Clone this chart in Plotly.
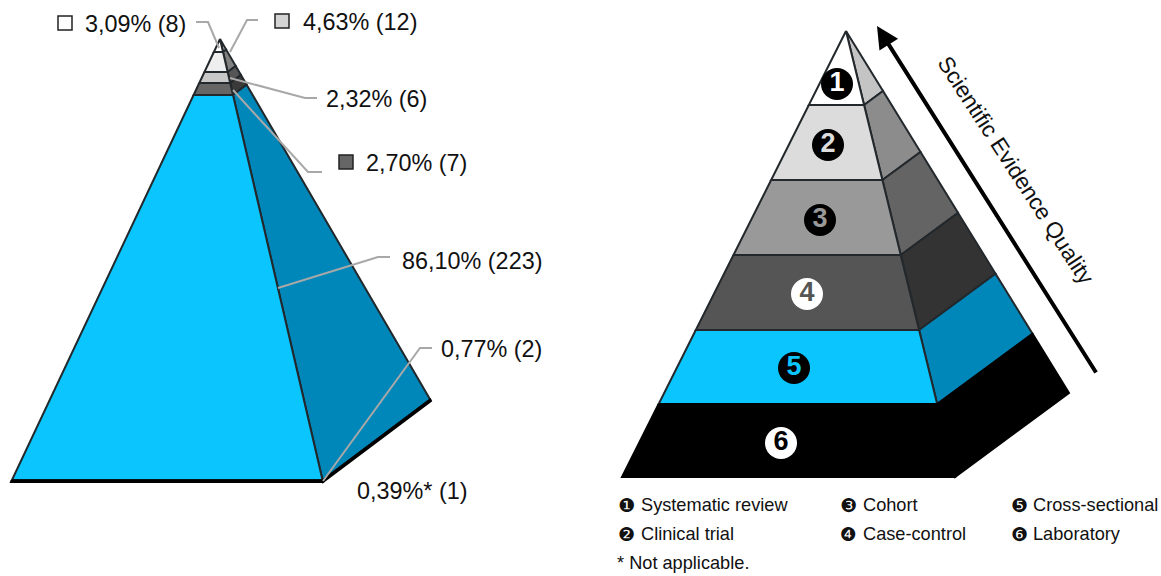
import plotly.graph_objects as go

# ---------- data ----------
categories = ["Systematic review", "Clinical trial", "Cohort", "Case-control", "Cross-sectional", "Laboratory"]
legend_glyphs = ["❶", "❷", "❸", "❹", "❺", "❻"]
circle_digits = ["1", "2", "3", "4", "5", "6"]
share_labels = ["3,09% (8)", "4,63% (12)", "2,32% (6)", "2,70% (7)", "86,10% (223)", "0,77% (2)", "0,39%* (1)"]
footnote = "* Not applicable."
axis_title = "Scientific Evidence Quality"

# height of each tier, as a share of the pyramid's height
left_tiers = [0.0293, 0.0451, 0.0248, 0.0271, 0.8697, 0.0040]
right_tiers = [0.1659, 0.1682, 0.1682, 0.1682, 0.1659, 0.1636]

# ---------- styling and layout ----------
FRONT = ["#ffffff", "#dcdcdc", "#999999", "#555555", "#0bc5fe", "#000000"]
SIDE = ["#c4c4c4", "#8c8c8c", "#646464", "#333333", "#0087ba", "#000000"]
LEFT_FRONT = ["#ffffff", "#eeeeee", "#c8c8c8", "#666666", "#0bc5fe", "#000000"]
LEFT_SIDE = ["#b4b4b4", "#808080", "#555555", "#3a3a3a", "#0087ba", "#000000"]
EDGE = "#22282c"
LEADER = "#a8a8a8"
FONT = "Liberation Sans"

L_GEOM = dict(apex=(220, 39), fl=(11, 482), fr=(323, 482), br=(431, 401))
R_GEOM = dict(apex=(846, 31), fl=(622, 477), fr=(955, 477), br=(1069, 393))

fig = go.Figure()


def lerp(a, b, t):
    return (a[0] + (b[0] - a[0]) * t, a[1] + (b[1] - a[1]) * t)


def poly(pts, fill, edge=EDGE, width=2):
    xs = [p[0] for p in pts] + [pts[0][0]]
    ys = [p[1] for p in pts] + [pts[0][1]]
    fig.add_trace(go.Scatter(x=xs, y=ys, mode="lines", fill="toself", fillcolor=fill,
                             line=dict(color=edge, width=width), hoverinfo="skip", showlegend=False))


def pyramid(tiers, g, front, side, width):
    total = sum(tiers)
    t0 = 0.0
    for h, cf, cs in zip(tiers, front, side):
        t1 = t0 + h / total
        a, b, c = g["fl"], g["fr"], g["br"]
        ap = g["apex"]
        edge = "#000000" if cf == "#000000" else EDGE
        poly([lerp(ap, b, t0), lerp(ap, c, t0), lerp(ap, c, t1), lerp(ap, b, t1)], cs, edge=edge, width=width)
        poly([lerp(ap, a, t0), lerp(ap, b, t0), lerp(ap, b, t1), lerp(ap, a, t1)], cf, edge=edge, width=width)
        t0 = t1


pyramid(left_tiers, L_GEOM, LEFT_FRONT, LEFT_SIDE, 2)
pyramid(right_tiers, R_GEOM, FRONT, SIDE, 2)

# leader lines of the left pyramid
leaders = [
    [(196, 22), (208, 22), (219, 48)],
    [(258, 20), (247, 20), (230, 52)],
    [(317, 98), (305, 98), (230, 78)],
    [(322, 172), (308, 172), (233, 90)],
    [(390, 257), (378, 257), (278, 288)],
    [(432, 348), (420, 348), (323, 481)],
]
for pts in leaders:
    fig.add_trace(go.Scatter(x=[p[0] for p in pts], y=[p[1] for p in pts], mode="lines",
                             line=dict(color=LEADER, width=2), hoverinfo="skip", showlegend=False))

# swatches next to labels
fig.add_trace(go.Scatter(x=[65, 282, 346], y=[23, 21, 162], mode="markers",
                         marker=dict(symbol="square", size=14, color=["#ffffff", "#d4d4d4", "#666666"],
                                     line=dict(color="#222222", width=1.5)),
                         hoverinfo="skip", showlegend=False))

# numbered circles in the right pyramid
circle_fill = ["#000000", "#000000", "#000000", "#ffffff", "#000000", "#ffffff"]
digit_color = ["#ffffff", "#dddddd", "#999999", "#555555", "#0bc5fe", "#000000"]
fig.add_trace(go.Scatter(x=[837, 828, 820, 807, 794, 781], y=[84, 145, 220, 294, 368, 443],
                         mode="markers+text", text=circle_digits,
                         textposition="middle center",
                         textfont=dict(family="Liberation Sans", size=27, color=digit_color, weight="bold"),
                         marker=dict(size=32, color=circle_fill),
                         hoverinfo="skip", showlegend=False))

# text
def note(x, y, text, size=23.4, anchor="left", angle=0, family=FONT):
    fig.add_annotation(x=x, y=y, text=text, showarrow=False, xanchor=anchor, yanchor="middle",
                       xshift=-2 if anchor == "left" else 0,
                       textangle=angle, font=dict(family=family, size=size, color="#111111"))


label_pos = [(85, 24), (303, 22), (326, 99), (366, 163), (402, 261), (441, 349), (357, 491)]
for (x, y), t in zip(label_pos, share_labels):
    note(x, y, t)

col_x = [(626, 641), (626, 641), (848, 863), (848, 863), (1019, 1033), (1019, 1033)]
row_y = [505, 534, 505, 534, 505, 534]
for (gx, tx), y, g, c in zip(col_x, row_y, legend_glyphs, categories):
    note(gx, y, g, size=19, anchor="center", family="DejaVu Sans")
    note(tx, y, c, size=18.2)
note(617, 563, footnote, size=18.2)

# rotated axis title and arrow
note(1016, 170, axis_title, size=22.6, anchor="center", angle=57)
fig.add_annotation(x=877, y=26, ax=1097, ay=374, xref="x", yref="y", axref="x", ayref="y", text="",
                   showarrow=True, arrowhead=2, arrowsize=1.1, arrowwidth=4, arrowcolor="#000000")

fig.update_layout(
    width=1161, height=576, margin=dict(l=0, r=0, t=0, b=0),
    paper_bgcolor="#ffffff", plot_bgcolor="#ffffff", showlegend=False,
    xaxis=dict(range=[0, 1161], visible=False, fixedrange=True),
    yaxis=dict(range=[576, 0], visible=False, fixedrange=True),
)
fig.write_html("out.html", config={"displayModeBar": False},
               post_script="document.body.style.margin='0';document.body.style.overflow='hidden';")
